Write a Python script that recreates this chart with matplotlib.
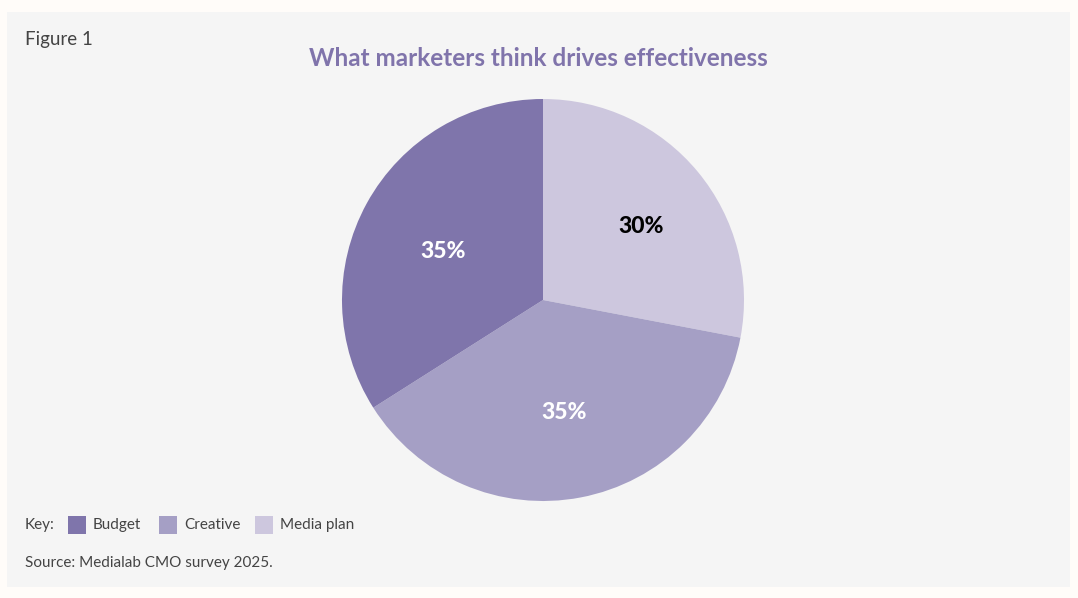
import numpy as np
import matplotlib.pyplot as plt
from matplotlib.patches import Rectangle

# data
categories = ["Budget", "Creative", "Media plan"]
shares = [34, 38, 28]  # slice sizes as drawn
shown_labels = ["35%", "35%", "30%"]  # text printed on the slices
colors = ["#7f75ab", "#a59fc5", "#cdc7de"]
label_colors = ["white", "white", "black"]

plt.rcParams['font.family'] = ['Lato', 'DejaVu Sans']

fig = plt.figure(figsize=(10.78, 5.98), dpi=100)
fig.patch.set_facecolor("#fffcf9")

# grey panel
fig.patches.append(Rectangle((7 / 1078, 1 - 587 / 598), 1063 / 1078, 575 / 598,
                             transform=fig.transFigure, facecolor="#f5f5f5",
                             edgecolor="none", zorder=-5))

# pie: center (543, 300), radius ~201 px
ax = fig.add_axes([(543 - 201) / 1078, 1 - (300 + 201) / 598, 402 / 1078, 402 / 598])
ax.set_zorder(3)
# order: Media plan starts at top going clockwise, then Creative, then Budget
order = [2, 1, 0]
wedges, texts = ax.pie([shares[i] for i in order], colors=[colors[i] for i in order],
                       startangle=90, counterclock=False,
                       labels=[shown_labels[i] for i in order], labeldistance=0.57,
                       wedgeprops=dict(linewidth=0))
# small per-slice nudges of the label placement (distance, angle offset in deg)
nudge = {0: (0.55, 3), 1: (0.57, 0), 2: (0.61, -3)}
for w, t, i in zip(wedges, texts, order):
    d, da = nudge[i]
    ang = np.deg2rad((w.theta1 + w.theta2) / 2 + da)
    t.set_position((d * np.cos(ang), d * np.sin(ang)))
    t.set_color(label_colors[i])
    t.set_fontsize(16.5)
    t.set_fontweight("black")
    t.set_ha("center")
    t.set_va("center")
ax.set_xlim(-1, 1)
ax.set_ylim(-1, 1)
ax.set_aspect("equal")
ax.axis("off")

fig.text(25 / 1078, 1 - 39 / 598, "Figure 1", fontsize=13.5, color="#444444",
         ha="left", va="center")
fig.text(538 / 1078, 1 - 59 / 598, "What marketers think drives effectiveness",
         fontsize=17.5, fontweight="bold", color="#8074ab", ha="center", va="center")

# key
ky = 1 - 525 / 598
fig.text(25 / 1078, ky, "Key:", fontsize=11, color="#444444", ha="left", va="center")
key_x = [68, 159, 255]
for xk, c, name in zip(key_x, colors, categories):
    fig.patches.append(Rectangle((xk / 1078, 1 - 534 / 598), 18 / 1078, 18 / 598,
                                 transform=fig.transFigure, facecolor=c,
                                 edgecolor="none"))
    fig.text((xk + 25) / 1078, ky, name, fontsize=11, color="#444444",
             ha="left", va="center")

fig.text(25 / 1078, 1 - 563 / 598, "Source: Medialab CMO survey 2025.", fontsize=11,
         color="#444444", ha="left", va="center")

fig.savefig("out.png", dpi=100, facecolor=fig.get_facecolor())
